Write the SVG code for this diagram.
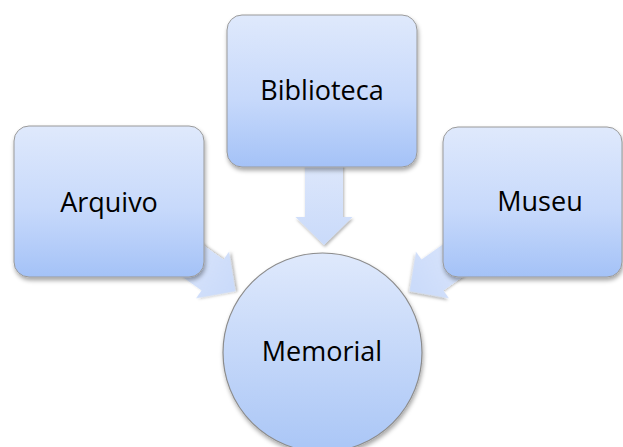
<svg xmlns="http://www.w3.org/2000/svg" width="623" height="447" viewBox="0 0 623 447">
<style>
.box{fill:url(#gBox);stroke:#9a9a9a;stroke-width:1;filter:url(#sh)}
.circ{fill:url(#gCirc);stroke:#8c8c8c;stroke-width:1.2;filter:url(#sh)}
.arr{fill:url(#gArr);filter:url(#sh2)}
.lbl{font-family:"Open Sans","Liberation Sans",sans-serif;font-size:27px;fill:#000;text-anchor:middle}
</style>
<defs>
<linearGradient id="gBox" x1="0" y1="0" x2="0" y2="1">
<stop offset="0" stop-color="#dfe9fc"/>
<stop offset="0.55" stop-color="#c7d9fb"/>
<stop offset="1" stop-color="#a4c2f7"/>
</linearGradient>
<linearGradient id="gCirc" x1="0" y1="0" x2="0" y2="1">
<stop offset="0" stop-color="#dfe9fc"/>
<stop offset="1" stop-color="#aac6f6"/>
</linearGradient>
<linearGradient id="gArr" x1="0" y1="0" x2="0" y2="1">
<stop offset="0" stop-color="#dde7fb"/>
<stop offset="1" stop-color="#c9dafa"/>
</linearGradient>
<filter id="sh" x="-20%" y="-20%" width="140%" height="140%">
<feDropShadow dx="1" dy="3" stdDeviation="2" flood-color="#000" flood-opacity="0.35"/>
</filter>
<filter id="sh2" x="-30%" y="-30%" width="160%" height="160%">
<feDropShadow dx="1" dy="2" stdDeviation="1.5" flood-color="#000" flood-opacity="0.3"/>
</filter>
<path id="arrowShape" d="M-19,-55 L19,-55 L19,0 L28.5,0 L0,28 L-28.5,0 L-19,0 Z"/>
</defs>
<g id="connectors">
<use href="#arrowShape" class="arr" transform="translate(324,217)"/>
<use href="#arrowShape" class="arr" transform="translate(212.5,275) rotate(-54.7)"/>
<use href="#arrowShape" class="arr" transform="translate(432.5,275) rotate(54.7)"/>
</g>
<g id="arquivo">
<rect class="box" x="14" y="126" width="190" height="151" rx="15"/>
<text class="lbl" x="109" y="212">Arquivo</text>
</g>
<g id="biblioteca">
<rect class="box" x="227" y="15" width="190" height="152" rx="15"/>
<text class="lbl" x="322" y="100">Biblioteca</text>
</g>
<g id="museu">
<rect class="box" x="443" y="127" width="179" height="150" rx="15"/>
<text class="lbl" x="540" y="211">Museu</text>
</g>
<g id="memorial">
<circle class="circ" cx="322.5" cy="352.5" r="99.5"/>
<text class="lbl" x="322" y="361">Memorial</text>
</g>
</svg>
